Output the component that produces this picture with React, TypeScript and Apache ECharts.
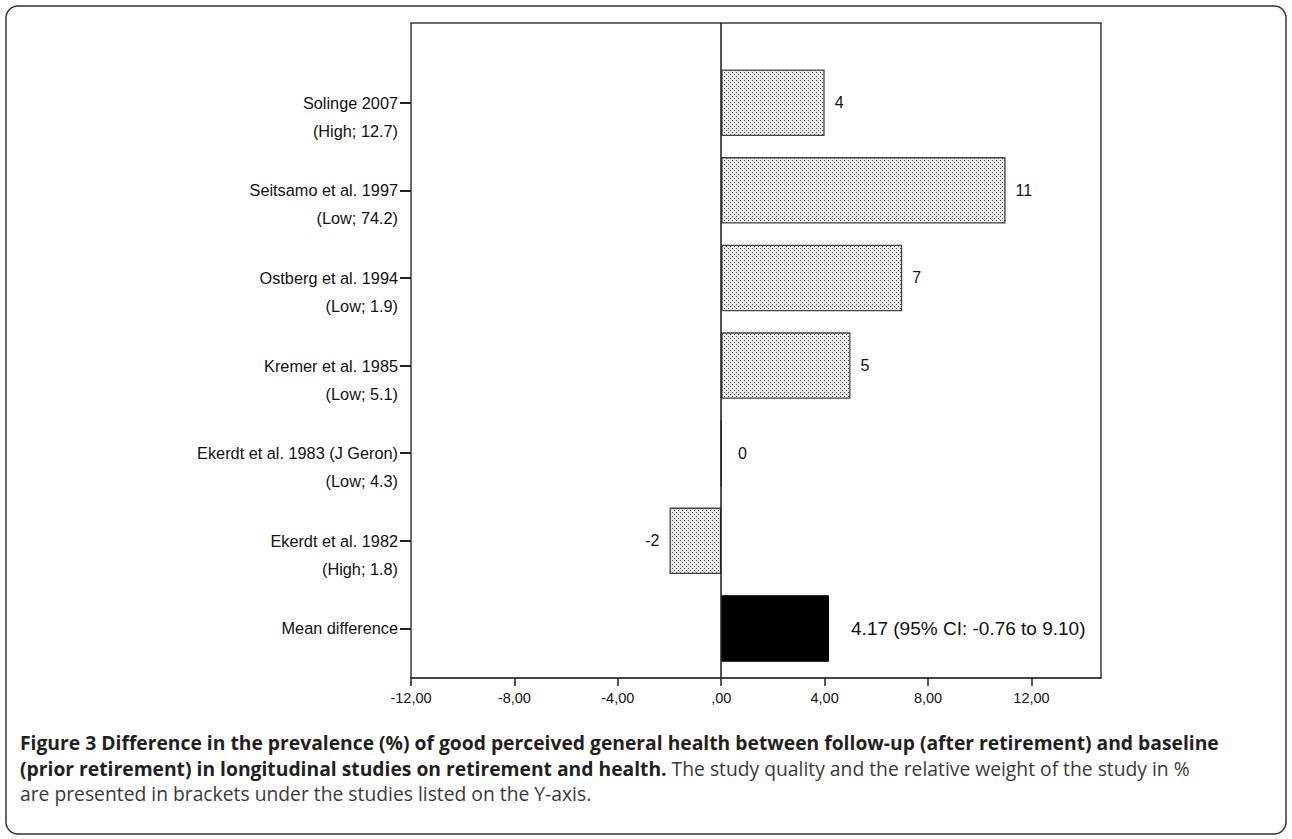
import React, { useEffect, useRef } from 'react';
import * as echarts from 'echarts';

// ---- data ----
const studies = [
  'Solinge 2007',
  'Seitsamo et al. 1997',
  'Ostberg et al. 1994',
  'Kremer et al. 1985',
  'Ekerdt et al. 1983 (J Geron)',
  'Ekerdt et al. 1982',
  'Mean difference',
];
const qualityWeights = [
  '(High; 12.7)',
  '(Low; 74.2)',
  '(Low; 1.9)',
  '(Low; 5.1)',
  '(Low; 4.3)',
  '(High; 1.8)',
  '',
];
const differences = [4, 11, 7, 5, 0, -2, 4.17];
const meanLabel = '4.17 (95% CI: -0.76 to 9.10)';
const xTicks = [-12, -8, -4, 0, 4, 8, 12];
const xMin = -12;
const xMax = 14.69;

const captionLine1 =
  'Figure 3 Difference in the prevalence (%) of good perceived general health between follow-up (after retirement) and baseline';
const captionLine2Bold = '(prior retirement) in longitudinal studies on retirement and health.';
const captionLine2Regular = ' The study quality and the relative weight of the study in %';
const captionLine3 = 'are presented in brackets under the studies listed on the Y-axis.';

const SANS = '"Liberation Sans", Arial, sans-serif';
const CAPTION_FONT = '"Open Sans", sans-serif';
const LABEL_SIZE = 16.3;
const CAPTION_SIZE = 19.3;

function makePattern(): any {
  const c = document.createElement('canvas');
  c.width = 4;
  c.height = 4;
  const ctx = c.getContext('2d');
  if (ctx) {
    ctx.fillStyle = '#ebebeb';
    ctx.fillRect(0, 0, 4, 4);
    ctx.fillStyle = '#4a4a4a';
    ctx.fillRect(0, 0, 1, 1);
    ctx.fillRect(2, 2, 1, 1);
  }
  return { image: c.toDataURL(), repeat: 'repeat', imageWidth: 4, imageHeight: 4 };
}

function fmtX(v: number): string {
  if (v === 0) return ',00';
  return v.toFixed(2).replace('.', ',');
}

export default function App() {
  const ref = useRef<HTMLDivElement>(null);

  useEffect(() => {
    if (!ref.current) return;
    const chart = echarts.init(ref.current, undefined, { renderer: 'svg' });
    const pattern = makePattern();
    const last = differences.length - 1;

    const barData = differences.map((v, i) => {
      const isMean = i === last;
      const item: any = {
        value: v,
        itemStyle: isMean
          ? { color: '#000', borderColor: '#000', borderWidth: 1 }
          : { color: pattern, borderColor: '#444', borderWidth: 1.3 },
        label: {
          show: true,
          position: v < 0 ? 'left' : 'right',
          distance: v === 0 ? 16 : isMean ? 22 : 10,
          formatter: isMean ? meanLabel : String(v),
          fontSize: isMean ? 19 : 16,
          fontFamily: SANS,
          color: '#111',
        },
      };
      return item;
    });

    const richStyle = { fontSize: LABEL_SIZE, lineHeight: 28, fontFamily: SANS, color: '#111', align: 'right' };

    const option: any = {
      animation: false,
      backgroundColor: '#fff',
      grid: [
        {
          left: 411,
          right: 191,
          top: 23,
          bottom: 161,
          show: true,
          borderColor: '#3a3a3a',
          borderWidth: 1.5,
          backgroundColor: 'transparent',
        },
        {
          left: 411,
          right: 191,
          top: 58.9,
          bottom: 166.7,
        },
      ],
      xAxis: [
        {
          type: 'value',
          gridIndex: 0,
          min: xMin,
          max: xMax,
          axisLine: { show: true, onZero: false, lineStyle: { color: '#3a3a3a', width: 1.5 } },
          axisTick: {
            show: true,
            length: 8,
            customValues: xTicks,
            lineStyle: { color: '#222', width: 1.5 },
          },
          axisLabel: {
            customValues: xTicks,
            formatter: (v: number) => fmtX(v),
            fontSize: 14.5,
            fontFamily: SANS,
            color: '#111',
            margin: 12,
          },
          splitLine: { show: false },
        },
        {
          type: 'value',
          gridIndex: 1,
          min: xMin,
          max: xMax,
          show: false,
          axisLine: { onZero: false },
          splitLine: { show: false },
        },
      ],
      yAxis: [
        {
          type: 'value',
          gridIndex: 0,
          min: 0,
          max: 1,
          show: false,
          axisLine: { onZero: false },
          splitLine: { show: false },
        },
        {
          type: 'category',
          gridIndex: 1,
          inverse: true,
          position: 'left',
          data: studies,
          axisLine: { show: false, onZero: false },
          axisTick: {
            show: true,
            alignWithLabel: true,
            length: 11,
            lineStyle: { color: '#222', width: 2 },
          },
          axisLabel: {
            margin: 13,
            formatter: (_v: string, idx: number) =>
              `{e| }\n{a|${studies[idx]}}\n{b|${qualityWeights[idx] || ' '}}`,
            rich: { e: richStyle, a: richStyle, b: richStyle },
          },
          splitLine: { show: false },
        },
      ],
      series: [
        {
          type: 'line',
          xAxisIndex: 0,
          yAxisIndex: 0,
          data: [[0, 0]],
          symbol: 'none',
          lineStyle: { opacity: 0 },
          silent: true,
          markLine: {
            silent: true,
            symbol: ['none', 'none'],
            label: { show: false },
            lineStyle: { color: '#1a1a1a', width: 1.5, type: 'solid' },
            data: [{ xAxis: 0 }],
          },
        },
        {
          type: 'bar',
          xAxisIndex: 1,
          yAxisIndex: 1,
          barWidth: 66.5,
          data: barData,
        },
      ],
      graphic: [
        {
          type: 'rect',
          shape: { x: 6, y: 6, width: 1280, height: 828, r: 12 },
          style: { fill: 'none', stroke: '#333', lineWidth: 1.5 },
          silent: true,
        },
        {
          type: 'text',
          left: 20,
          top: 733,
          style: {
            text: captionLine1,
            font: `bold ${CAPTION_SIZE}px ${CAPTION_FONT}`,
            fill: '#231f20',
          },
        },
        {
          type: 'text',
          left: 20,
          top: 759,
          style: {
            text: `{b|${captionLine2Bold}}{r|${captionLine2Regular}}`,
            rich: {
              b: { fontFamily: CAPTION_FONT, fontWeight: 'bold', fontSize: CAPTION_SIZE, fill: '#231f20' },
              r: { fontFamily: CAPTION_FONT, fontWeight: 'normal', fontSize: CAPTION_SIZE, fill: '#3a3a3a' },
            },
          },
        },
        {
          type: 'text',
          left: 20,
          top: 784,
          style: {
            text: captionLine3,
            font: `${CAPTION_SIZE}px ${CAPTION_FONT}`,
            fill: '#3a3a3a',
          },
        },
      ],
    };

    chart.setOption(option);
    return () => {
      chart.dispose();
    };
  }, []);

  return (
    <div
      ref={ref}
      style={{ position: 'absolute', left: 0, top: 0, width: 1292, height: 839, background: '#fff' }}
    />
  );
}
